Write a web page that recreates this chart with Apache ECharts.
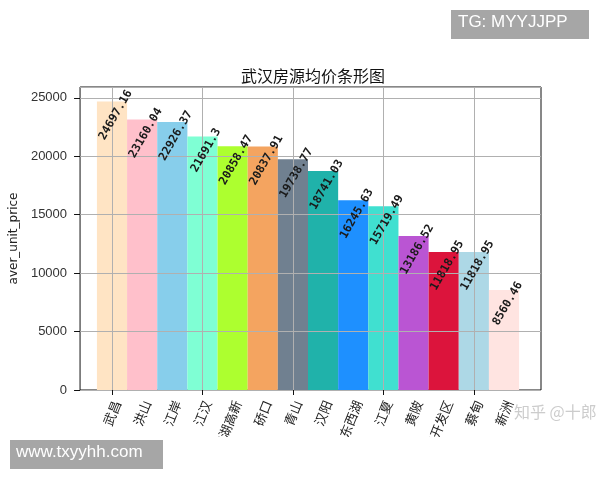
<!DOCTYPE html>
<html><head><meta charset="utf-8">
<script src="https://cdn.jsdelivr.net/npm/echarts@6/dist/echarts.min.js"></script>
<style>html,body{margin:0;padding:0;background:#fff}#c{width:600px;height:480px}</style>
</head><body><div id="c"></div>
<script>
const categories = ['武昌','洪山','江岸','江汉','东湖高新','硚口','青山','汉阳','东西湖','江夏','黄陂','沌口开发区','蔡甸','新洲'];
const prices = [24697.16,23160.04,22926.37,21691.3,20858.47,20837.91,19738.77,18741.03,16245.63,15719.49,13186.52,11818.95,11818.95,8560.46];
const barColors = ['#FFE4C4','#FFC0CB','#87CEEB','#7FFFD4','#ADFF2F','#F4A460','#708090','#20B2AA','#1E90FF','#40E0D0','#BA55D3','#DC143C','#ADD8E6','#FFE4E1'];
const titleText = '武汉房源均价条形图';
const yName = 'aver_unit_price';
const yMax = 25932;

const chart = echarts.init(document.getElementById('c'), null, {renderer:'canvas'});
const gridTop = 87, gridBottom = 90;
chart.setOption({
  animation:false,
  backgroundColor:'#fff',
  title:{text:titleText,left:308,textAlign:'center',top:63,textStyle:{fontFamily:'Noto Sans CJK SC',fontSize:16,fontWeight:'normal',color:'#111'}},
  grid:[
    {left:76,right:59,top:gridTop,bottom:gridBottom,show:true,borderColor:'#111',borderWidth:1,backgroundColor:'transparent'},
    {left:112,right:96,top:gridTop,bottom:gridBottom},
    {left:117,right:91,top:gridTop,bottom:gridBottom}
  ],
  xAxis:[
    {gridIndex:0,type:'value',min:0,max:1,show:false},
    {gridIndex:1,type:'category',data:categories,boundaryGap:false,z:3,
      axisLine:{show:false},
      axisTick:{show:true,length:5,inside:false,lineStyle:{color:'#111'}},
      axisLabel:{show:false},
      splitLine:{show:true,lineStyle:{color:'#b0b0b0',width:1}}},
    {gridIndex:2,type:'category',data:categories,boundaryGap:false,
      axisLine:{show:false},axisTick:{show:false},splitLine:{show:false},
      axisLabel:{show:true,interval:0,rotate:68,margin:11,fontFamily:'Noto Sans CJK SC',fontSize:13,color:'#222'}}
  ],
  yAxis:[
    {gridIndex:0,type:'value',min:0,max:yMax,interval:5000,z:3,
      name:yName,nameLocation:'middle',nameGap:50,nameTextStyle:{fontFamily:'DejaVu Sans',fontSize:12,color:'#222'},
      axisLine:{show:false},
      axisTick:{show:true,length:6,lineStyle:{color:'#111'}},
      axisLabel:{margin:13,fontFamily:'Liberation Sans',fontSize:13,color:'#333',showMaxLabel:false,formatter:v=>String(v)},
      splitLine:{show:true,lineStyle:{color:'#b0b0b0',width:1}}},
    {gridIndex:1,type:'value',min:0,max:yMax,show:false,splitLine:{show:false}},
    {gridIndex:2,type:'value',min:0,max:yMax,show:false,splitLine:{show:false}}
  ],
  series:[{
    type:'bar',xAxisIndex:1,yAxisIndex:1,clip:false,barCategoryGap:'0%',barGap:'-100%',z:2,
    data:prices.map((v,i)=>({value:v,itemStyle:{color:barColors[i]}})),
    label:{show:false}
  },{
    type:'bar',xAxisIndex:1,yAxisIndex:1,clip:false,barCategoryGap:'0%',barGap:'-100%',z:5,
    data:prices,itemStyle:{color:'rgba(0,0,0,0)'},silent:true,
    label:{show:true,position:'top',distance:0,rotate:60,align:'center',verticalAlign:'middle',offset:[-10,10],
      formatter:p=>String(p.value),fontFamily:'DejaVu Sans Mono',fontSize:11.5,fontWeight:'bold',color:'#1a1a1a'}
  }],
  graphic:[
    {type:'rect',z:100,shape:{x:0,y:437,width:600,height:43},style:{fill:'#fff'}},
    {type:'text',z:101,left:514,top:404,style:{text:'知乎 @十郎',fontFamily:'Noto Sans CJK SC',fontSize:16,fill:'rgba(170,170,170,0.6)'}},
    {type:'rect',z:101,shape:{x:451,y:10,width:138,height:29},style:{fill:'#a6a6a6'}},
    {type:'text',z:102,left:458,top:14,style:{text:'TG: MYYJJPP',fontFamily:'Liberation Sans',fontSize:17,fill:'#fff'}},
    {type:'rect',z:101,shape:{x:10,y:440,width:153,height:29},style:{fill:'#a6a6a6'}},
    {type:'text',z:102,left:16,top:444,style:{text:'www.txyyhh.com',fontFamily:'Liberation Sans',fontSize:17,fill:'#fff'}}
  ]
});
</script></body></html>
